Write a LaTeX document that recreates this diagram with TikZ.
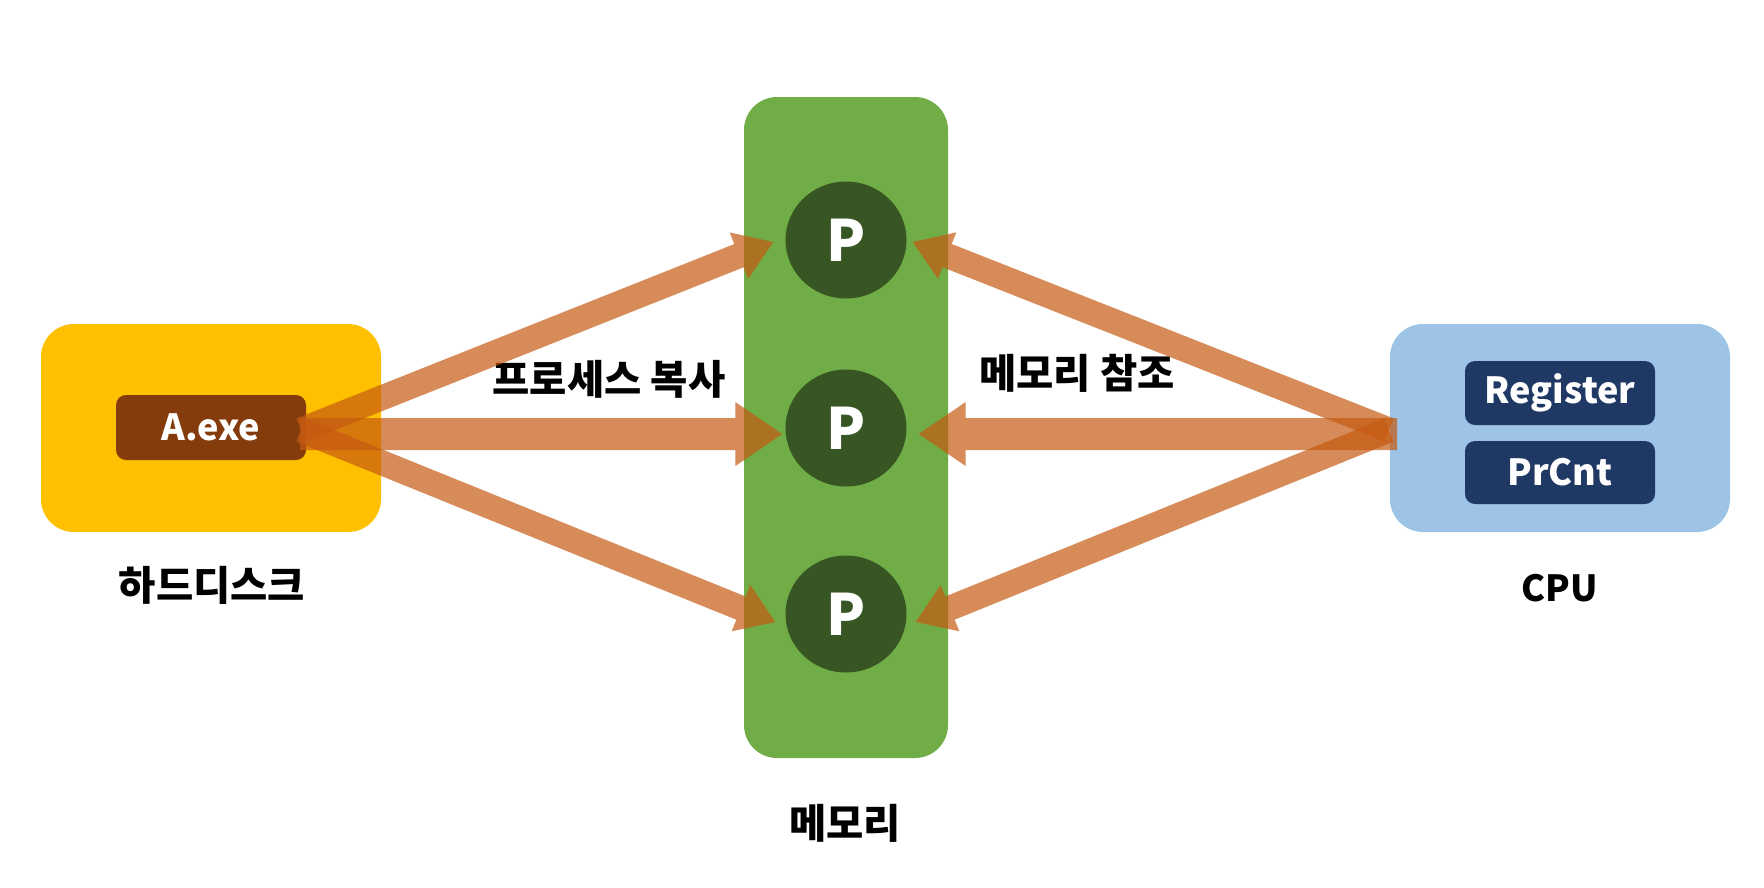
\documentclass[tikz,border=0pt]{standalone}
\usepackage{fontspec}
\setmainfont{Noto Sans CJK KR}
\usetikzlibrary{calc,shapes.geometric}
\definecolor{hddc}{HTML}{FFC000}
\definecolor{exec}{HTML}{843C0C}
\definecolor{memc}{HTML}{70AD47}
\definecolor{procc}{HTML}{375623}
\definecolor{cpuc}{HTML}{9DC3E6}
\definecolor{regc}{HTML}{203864}
\definecolor{flowc}{HTML}{C55A11}
\newcommand\flowarrow[5]{%
  \coordinate (ab) at ($(#2)!#4!(#1)$);
  \fill[flow] ($(#1)!#3!90:(#2)$) -- ($(ab)!#3!90:(#2)$) -- ($(ab)!#5!90:(#2)$) -- (#2)
    -- ($(ab)!#5!-90:(#2)$) -- ($(ab)!#3!-90:(#2)$) -- ($(#1)!#3!-90:(#2)$) -- cycle;}
\tikzset{
  bigbox/.style={rounded corners=33pt, minimum width=340pt, minimum height=208pt, inner sep=0pt},
  smallbox/.style={rounded corners=10pt, minimum width=190pt, inner sep=0pt, text=white,
    font=\fontsize{36}{40}\selectfont\bfseries},
  proc/.style={ellipse, fill=procc, minimum width=121pt, minimum height=117pt, inner sep=0pt,
    text=white, font=\fontsize{57}{60}\selectfont\bfseries},
  lbl/.style={font=\fontsize{40.5}{44}\selectfont\bfseries, inner sep=0pt},
  latinlbl/.style={font=\fontsize{36}{40}\selectfont\bfseries, inner sep=0pt},
  flow/.style={fill=flowc, fill opacity=0.7}
}
\begin{document}
\begin{tikzpicture}[x=1pt,y=-1pt]
\useasboundingbox (0,0) rectangle (1764,887);
% boxes
\node[bigbox, fill=hddc] (hdd) at (211,428) {};
\node[smallbox, fill=exec, minimum height=65pt] (exe) at (211,427.5) {A.exe};
\node[rounded corners=33pt, fill=memc, minimum width=204pt, minimum height=661pt, inner sep=0pt] (mem) at (846,427.5) {};
\node[proc] (p1) at (846,240) {P};
\node[proc] (p2) at (846,428) {P};
\node[proc] (p3) at (846,614) {P};
\node[bigbox, fill=cpuc] (cpu) at (1560,428) {};
\node[smallbox, fill=regc, minimum height=64pt] (reg) at (1560,393) {Register};
\node[smallbox, fill=regc, minimum height=63pt] (prc) at (1560,472.5) {PrCnt};
% labels
\node[lbl] (hddl) at (212,585) {하드디스크};
\node[lbl] (meml) at (845,823) {메모리};
\node[latinlbl] (cpul) at (1560,588) {CPU};
\node[lbl] (copyl) at (609,379) {프로세스 복사};
\node[lbl] (refl) at (1077,373) {메모리 참조};
% connector ends
\coordinate (exed) at (301,430);
\coordinate (exeh) at (300,434);
\coordinate (cpud) at (1389,430);
\coordinate (cpuh) at (1397,434);
\coordinate (t1l) at ($(p1.west)+(-12,2)$);
\coordinate (t1r) at ($(p1.east)+(6,2)$);
\coordinate (t2l) at ($(p2.west)+(-3,6)$);
\coordinate (t2r) at ($(p2.east)+(12,6)$);
\coordinate (t3l) at ($(p3.west)+(-10,8)$);
\coordinate (t3r) at ($(p3.east)+(9,8)$);
% arrows
\flowarrow{exed}{t1l}{12.5pt}{37pt}{25pt}
\flowarrow{exeh}{t2l}{16pt}{47pt}{32pt}
\flowarrow{exed}{t3l}{12.5pt}{37pt}{25pt}
\flowarrow{cpud}{t1r}{12.5pt}{37pt}{25pt}
\flowarrow{cpuh}{t2r}{16pt}{47pt}{32pt}
\flowarrow{cpud}{t3r}{12.5pt}{37pt}{25pt}
\end{tikzpicture}
\end{document}
